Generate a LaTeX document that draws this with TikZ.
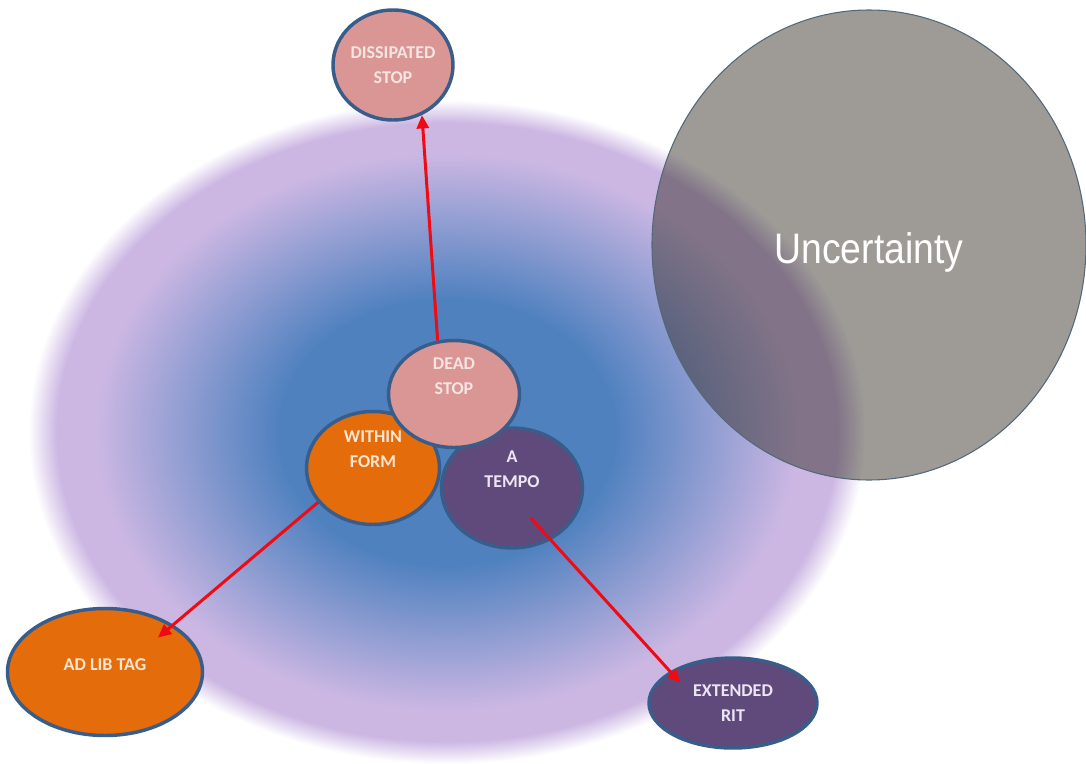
\documentclass[tikz,border=0pt]{standalone}
\usepackage{fontspec}
\setmainfont{Carlito}
\newfontfamily\uncfont{Liberation Sans}
\usetikzlibrary{shapes.geometric,arrows.meta,calc}
\definecolor{glowblue}{RGB}{79,129,191}
\definecolor{glowlav}{RGB}{204,183,227}
\definecolor{nodeborder}{RGB}{56,93,138}
\definecolor{pinkfill}{RGB}{217,150,148}
\definecolor{orangefill}{RGB}{228,108,10}
\definecolor{purplefill}{RGB}{96,74,123}
\definecolor{pinktext}{RGB}{246,228,227}
\definecolor{orangetext}{RGB}{252,230,210}
\definecolor{purpletext}{RGB}{236,230,242}
\definecolor{arrowred}{RGB}{240,10,20}
\definecolor{grayfill}{RGB}{40,34,26}
\definecolor{grayborder}{RGB}{84,104,122}
\pgfdeclareradialshading{glow}{\pgfpoint{0bp}{0bp}}{color(0bp)=(glowblue); color(10bp)=(glowblue); color(21bp)=(glowlav); color(23.3bp)=(glowlav); color(25bp)=(white); color(50bp)=(white)}
\begin{document}
\begin{tikzpicture}[x=0.75pt,y=-0.75pt,
  bub/.style={ellipse, draw=nodeborder, line width=2.6pt, inner sep=0pt, align=center,
    font=\bfseries\fontsize{13.5}{19}\selectfont},
  pinkb/.style={bub, fill=pinkfill, text=pinktext},
  orangeb/.style={bub, fill=orangefill, text=orangetext},
  purpleb/.style={bub, fill=purplefill, text=purpletext},
  redarrow/.style={draw=arrowred, line width=2.25pt, -{Triangle[length=10pt,width=9pt]}}
]
\path[fill=white] (0,0) rectangle (1086,764);
\useasboundingbox (0,0) rectangle (1086,764);
% radial glow
\shade[shading=glow] (447,432) ellipse [x radius=314pt, y radius=249pt];
% bubbles
\node[pinkb, minimum width=90pt, minimum height=82.5pt] (diss) at (393,65) {DISSIPATED\\STOP};
\node[orangeb, minimum width=99.75pt, minimum height=84.75pt, text depth=28pt] (within) at (373,468) {WITHIN\\FORM};
\node[purpleb, minimum width=105.75pt, minimum height=90pt, text depth=28pt] (atempo) at (512,488) {A\\TEMPO};
\node[pinkb, minimum width=98.25pt, minimum height=80.25pt, text depth=26.5pt] (dead) at (454,394) {DEAD\\STOP};
\node[orangeb, minimum width=146.25pt, minimum height=95.25pt, text depth=10.5pt] (adlib) at (105,672) {AD LIB TAG};
\node[purpleb, minimum width=126pt, minimum height=67.5pt] (ext) at (733,703) {EXTENDED\\RIT};
% arrows
\draw[redarrow] (dead.107) -- (diss.-60);
\draw[redarrow] (within.212) -- ($(adlib.center)!0.75!(adlib.33)$);
\draw[redarrow] ($(atempo.center)!0.55!(atempo.-58)$) -- ($(ext.center)!0.75!(ext.159)$);
% uncertainty circle
\node[ellipse, draw=grayborder, line width=0.8pt, fill=grayfill, fill opacity=0.45, text opacity=1,
  minimum width=325.5pt, minimum height=352.5pt, inner sep=0pt, text=white,
  font=\uncfont\fontsize{32}{38}\selectfont, text height=34pt] (unc) at (869,245) {\scalebox{0.875}[1]{Uncertainty}};
\end{tikzpicture}
\end{document}
